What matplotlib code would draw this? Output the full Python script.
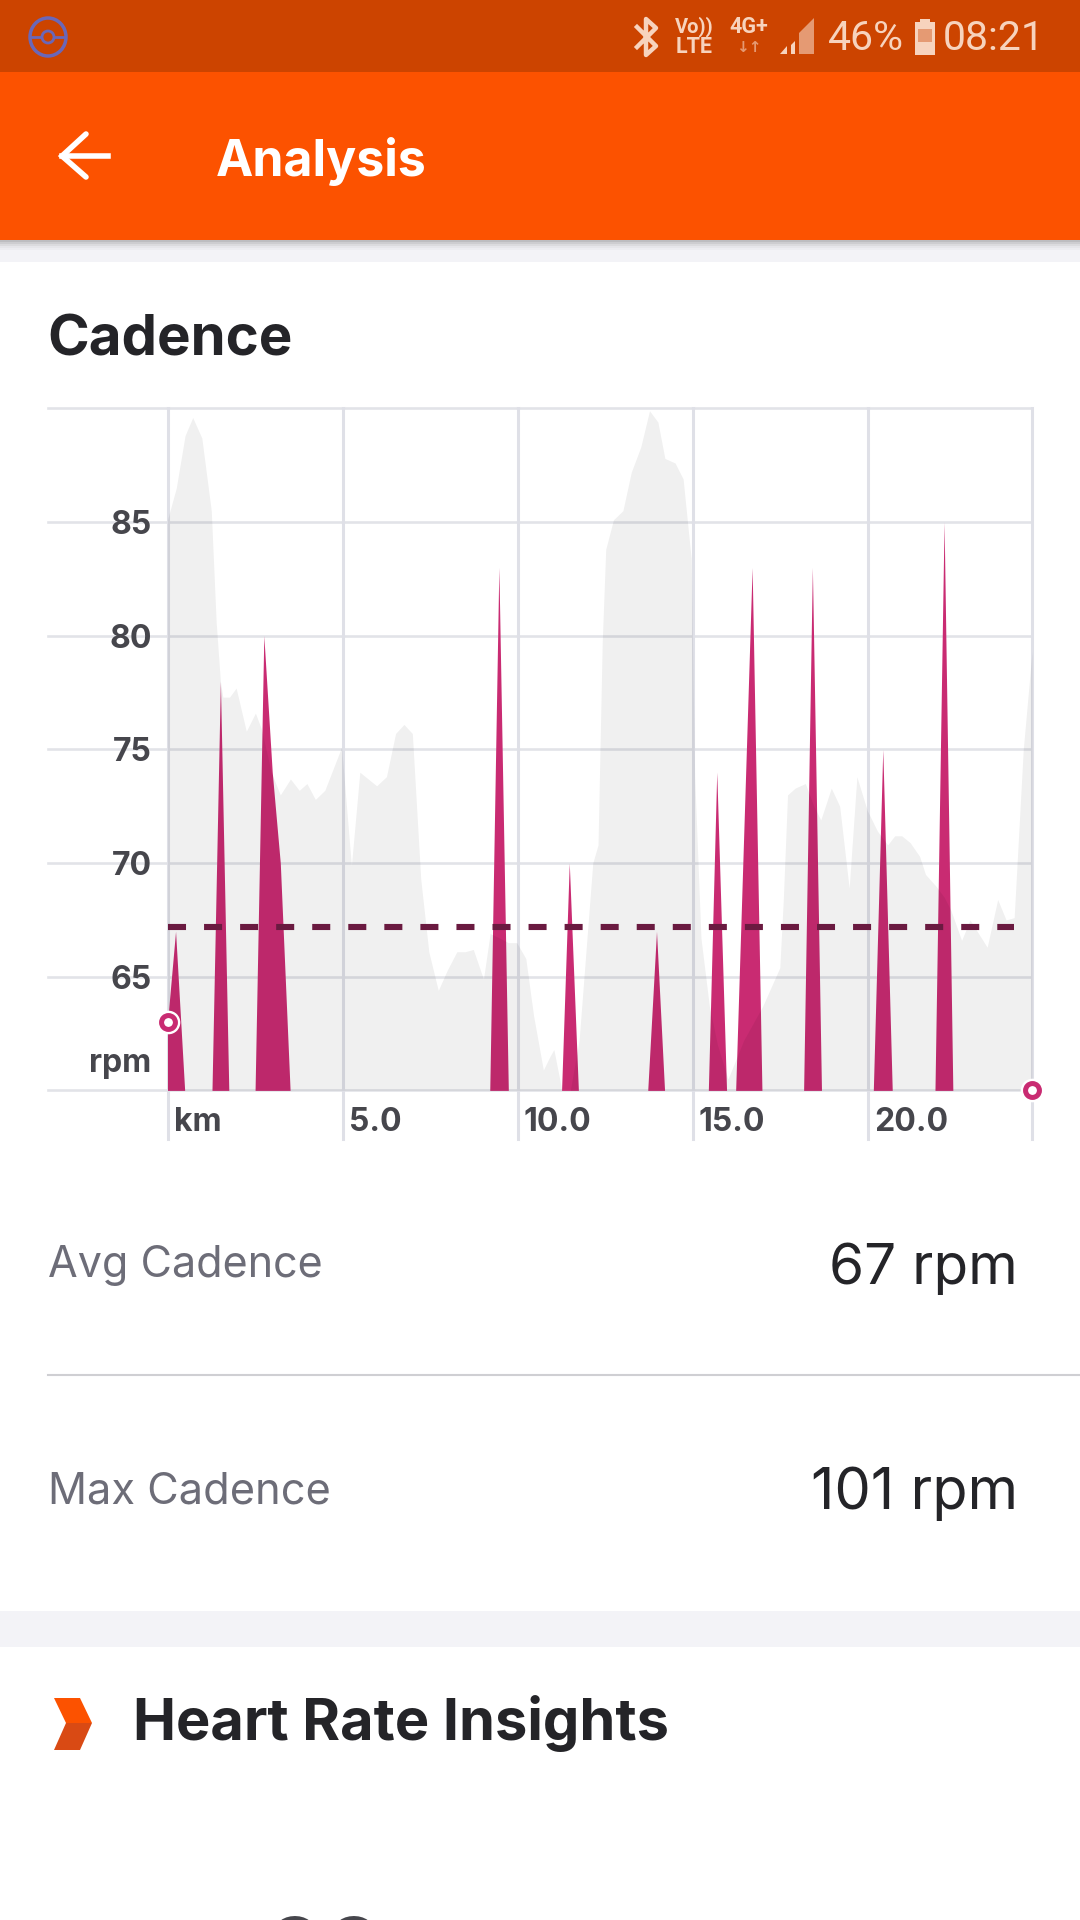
import matplotlib
matplotlib.use('Agg')
import matplotlib.pyplot as plt
from matplotlib.patches import Polygon, Rectangle, Circle, Ellipse
from matplotlib.transforms import ScaledTranslation

plt.rcParams['font.family'] = ['Inter', 'Roboto', 'DejaVu Sans']

# grey background series, km / rpm
speed_km = [0, 0.25, 0.5, 0.72, 0.98, 1.25, 1.39, 1.51, 1.58, 1.77, 1.96, 2.25, 2.51, 2.68, 2.96, 3.22,
            3.51, 3.76, 3.98, 4.22, 4.49, 4.97, 5.25, 5.49, 5.97, 6.25, 6.51, 6.75, 6.99, 7.23, 7.46,
            7.73, 7.99, 8.26, 8.49, 8.73, 9.02, 9.21, 9.48, 9.73, 9.97, 10.23, 10.45, 10.73, 10.92,
            11.03, 11.26, 11.5, 11.75, 11.9, 12.14, 12.29, 12.41, 12.51, 12.73, 13.0, 13.24, 13.51,
            13.76, 14.0, 14.2, 14.49, 14.72, 14.95, 15.05, 15.23, 15.47, 15.7, 16.0, 16.45, 16.99,
            17.48, 17.58, 17.7, 17.92, 18.21, 18.45, 18.65, 18.95, 19.19, 19.46, 19.68, 19.98, 20.27,
            20.56, 20.76, 20.96, 21.2, 21.47, 21.64, 21.93, 22.17, 22.37, 22.67, 22.91, 23.4, 23.7,
            23.94, 24.17, 24.43, 24.68]
speed_rpm = [85.1, 86.5, 88.8, 89.6, 88.7, 85.5, 80.6, 78.0, 77.3, 77.3, 77.7, 75.8, 76.6, 75.9, 74.0, 73.0,
             73.7, 73.2, 73.5, 72.8, 73.2, 75.1, 69.9, 74.0, 73.4, 73.8, 75.7, 76.1, 75.7, 69.3, 66.1,
             64.4, 65.3, 66.1, 66.1, 66.2, 64.9, 66.9, 66.7, 66.5, 66.5, 65.8, 63.3, 60.9, 61.5,
             61.8, 60.0, 60.0, 62.2, 65.2, 70.0, 70.8, 79.7, 83.8, 85.1, 85.5, 87.2, 88.3,
             89.9, 89.4, 87.8, 87.6, 86.9, 83.4, 73.8, 66.7, 63.7, 62.0, 60.5, 62.2, 63.7,
             65.4, 68.4, 73.0, 73.3, 73.5, 72.5, 71.9, 73.3, 72.5, 68.9, 73.8, 72.3, 71.4,
             70.8, 71.2, 71.2, 70.9, 70.3, 69.5, 69.0, 68.5, 67.9, 66.6, 67.5, 66.3, 68.4,
             67.5, 67.6, 75.0, 79.3]

# cadence spikes
cadence_km = [0, 0.23, 0.49, 1.27, 1.51, 1.75, 2.5, 2.75, 2.99, 3.22, 3.5, 9.2, 9.46, 9.73, 11.25, 11.47,
              11.73, 13.71, 13.96, 14.19, 15.44, 15.68, 15.96, 16.22, 16.69, 16.97, 18.16, 18.41, 18.67,
              20.15, 20.42, 20.69, 21.91, 22.17, 22.42, 24.68]
cadence_rpm = [63, 67, 60, 60, 78, 60, 60, 80, 74, 70, 60, 60, 83, 60, 60, 70,
               60, 60, 67, 60, 60, 74, 60, 60, 83, 60, 60, 83, 60,
               60, 75, 60, 60, 85, 60, 60]

avg_cadence = 67.2
avg_end_km = 24.17

y_ticks = [65, 70, 75, 80, 85]
x_ticks = [0, 5, 10, 15, 20]
x_tick_labels = ['km', '5.0', '10.0', '15.0', '20.0']

W, H = 1080, 1920
DARK = '#242428'
MAGENTA = '#C92B72'
LABEL = '#46464C'
STATUS = '#F7D3BD'
STATUS_DIM = '#E59A73'
NARROW = ['Liberation Sans Narrow', 'Roboto']

fig = plt.figure(figsize=(W / 100, H / 100), dpi=100, facecolor='white')

# page furniture, in pixels
page = fig.add_axes([0, 0, 1, 1])
page.set_xlim(0, W)
page.set_ylim(H, 0)
page.axis('off')


def band(y0, y1, color):
    page.add_patch(Rectangle((0, y0), W, y1 - y0, color=color, lw=0))


band(0, 72, '#CC4400')
band(72, 240, '#FC5200')
band(240, 262, '#F3F3F7')
for i, c in enumerate(['#BDBDC0', '#CDCDD0', '#DBDBDE', '#E6E6EA', '#EDEDF1']):
    band(240 + i * 2, 242 + i * 2, c)
band(1611, 1647, '#F3F3F7')
page.plot([48, W], [1375, 1375], color='#CFCFD3', lw=1.5)

# status bar
page.add_patch(Ellipse((48, 37), 36, 38, fc='none', ec='#6A67B8', lw=2.5))
page.plot([31, 65], [37, 37], color='#6A67B8', lw=2)
page.add_patch(Circle((48, 37), 6, fc='#CC4400', ec='#6A67B8', lw=2, zorder=3))
page.plot([637, 656, 646, 646, 656, 637], [27, 46, 55, 19, 28, 47], color=STATUS, lw=3.2)
page.text(694, 27, 'Vo))', color=STATUS, fontsize=14.5, ha='center', va='center', family=NARROW, weight='bold')
page.text(694, 47, 'LTE', color=STATUS, fontsize=15.5, ha='center', va='center', family=NARROW, weight='bold')
page.text(749, 27, '4G+', color=STATUS, fontsize=15.5, ha='center', va='center', family=NARROW, weight='bold')
page.text(749, 47, '↓↑', color=STATUS_DIM, fontsize=11, ha='center', va='center', family='DejaVu Sans', weight='bold')
page.add_patch(Polygon([[799, 54], [814, 54], [814, 18], [799, 33]], color=STATUS_DIM, lw=0))
page.add_patch(Polygon([[780, 54], [787, 54], [787, 46]], color=STATUS, lw=0))
page.add_patch(Polygon([[791, 54], [795, 54], [795, 41], [791, 45]], color=STATUS, lw=0))
page.text(866, 38, '46%', color=STATUS, fontsize=29.5, ha='center', va='center', family=NARROW)
page.add_patch(Rectangle((915, 22), 20, 33, color=STATUS, lw=0))
page.add_patch(Rectangle((920, 19), 10, 4, color=STATUS, lw=0))
page.add_patch(Rectangle((918, 29), 14, 13, color=STATUS_DIM, lw=0))
page.text(1045, 38, '08:21', color=STATUS, fontsize=29.5, ha='right', va='center', family=NARROW)

# toolbar
page.plot([86, 62, 86], [134, 156, 177], color='white', lw=4, solid_capstyle='round', solid_joinstyle='miter')
page.plot([62, 108], [156, 156], color='white', lw=4)
page.text(216, 161, 'Analysis', color='white', fontsize=36, weight='bold', va='center')

page.text(47, 340, 'Cadence', color=DARK, fontsize=40.6, weight='bold', va='center')

page.text(48, 1266, 'Avg Cadence', color='#6D6D78', fontsize=31, va='center')
page.text(1018, 1269, '67 rpm', color=DARK, fontsize=40.8, ha='right', va='center')
page.text(48, 1492, 'Max Cadence', color='#6D6D78', fontsize=31.2, va='center')
page.text(1018, 1494, '101 rpm', color=DARK, fontsize=41.5, ha='right', va='center')

page.add_patch(Polygon([[54, 1698], [80, 1698], [92, 1723], [66, 1723]], color='#FC5200', lw=0))
page.add_patch(Polygon([[54, 1750], [80, 1750], [92, 1723], [66, 1723]], color='#D94A14', lw=0))
page.text(133, 1724, 'Heart Rate Insights', color=DARK, fontsize=41.6, weight='bold', va='center')
# digits cut by the bottom of the screen, only their tops show
page.text(324, 1988, '88', color='#46464C', fontsize=70, ha='center', va='baseline')

# chart, same pixel box as the app
left, right, top, bottom = 167.5, 1032, 408.4, 1090.4
ax = fig.add_axes([left / W, 1 - bottom / H, (right - left) / W, (bottom - top) / H])
ax.patch.set_alpha(0)
ax.set_xlim(0, 24.68)
ax.set_ylim(60, 90)
for s in ax.spines.values():
    s.set_visible(False)

grid_left = (48 - left) / (right - left)
for v in y_ticks + [60, 90]:
    ax.axhline(v, xmin=grid_left, xmax=1, color='#E2E3E8', lw=1.9, clip_on=False, zorder=1)
grid_bottom = (bottom - 1139) / (bottom - top)
for km in x_ticks + [24.68]:
    ax.axvline(km, ymin=grid_bottom, ymax=1, color='#DFE0E7', lw=2.2, clip_on=False, zorder=1)

ax.fill_between(cadence_km, cadence_rpm, 60, color=MAGENTA, lw=0, zorder=2)
ax.fill_between(speed_km, speed_rpm, 60, color='black', alpha=0.06, lw=0, zorder=3)
ax.plot([0, avg_end_km], [avg_cadence, avg_cadence], color='#6A1A40', lw=4.4,
        dashes=(2.95, 2.95), dash_capstyle='butt', zorder=4)

for km, rpm in [(cadence_km[0], cadence_rpm[0]), (cadence_km[-1], cadence_rpm[-1])]:
    ax.plot(km, rpm, 'o', ms=17, mfc='white', mew=0, clip_on=False, zorder=5)
    ax.plot(km, rpm, 'o', ms=10, mfc='white', mec=MAGENTA, mew=3.6, clip_on=False, zorder=6)

ax.set_yticks(y_ticks)
ax.set_yticklabels([str(v) for v in y_ticks], fontsize=23, weight='bold', color=LABEL)
ax.tick_params(axis='y', length=0, pad=11.5)
ax.set_xticks(x_ticks)
ax.set_xticklabels(x_tick_labels, fontsize=23, weight='bold', color=LABEL, ha='left')
ax.tick_params(axis='x', length=0, pad=12)
for lab in ax.get_xticklabels():
    lab.set_transform(lab.get_transform() + ScaledTranslation(6 / 100, 0, fig.dpi_scale_trans))
ax.text(-0.47, 61.2, 'rpm', fontsize=23, weight='bold', color=LABEL, ha='right', va='center')

fig.savefig('out.png', dpi=100)
